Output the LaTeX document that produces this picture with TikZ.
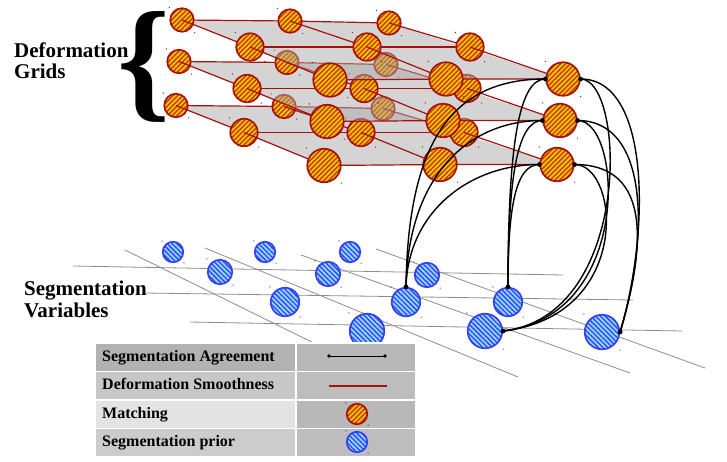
\documentclass[tikz,border=0pt]{standalone}
\usepackage{fontspec}
\setmainfont{Liberation Serif}
\usetikzlibrary{patterns.meta,positioning}
\definecolor{GridRed}{RGB}{168,16,16}
\definecolor{MatchFill}{RGB}{255,196,0}
\definecolor{MatchHatch}{RGB}{190,60,0}
\definecolor{SegBlue}{RGB}{52,64,246}
\definecolor{SegFill}{RGB}{140,215,255}
\definecolor{PlaneGray}{RGB}{170,170,170}
\definecolor{LineGray}{RGB}{140,140,140}
\newcommand{\specks}[2]{\fill[#2] (#1.west |- #1.north) circle (0.7) (#1.east |- #1.south) circle (0.7);}

\begin{document}
\begin{tikzpicture}[x=1pt,y=-1pt,
  matchnode/.style={circle,inner sep=0pt,draw=GridRed,line width=1.7pt,preaction={fill=MatchFill},
    pattern={Lines[angle=45,distance=3.4pt,line width=1.4pt]},pattern color=MatchHatch},
  priornode/.style={circle,inner sep=0pt,draw=SegBlue,line width=1.7pt,preaction={fill=SegFill},
    pattern={Lines[angle=-45,distance=3.4pt,line width=1.3pt]},pattern color=SegBlue},
  smoothline/.style={GridRed,line width=1.2pt},
  agreeline/.style={black,line width=1.4pt},
  gridplane/.style={fill=PlaneGray,fill opacity=0.5},
  segline/.style={LineGray,line width=0.8pt},
  heading/.style={font=\fontsize{21}{21.5}\selectfont\bfseries,align=left,inner sep=0pt,anchor=north west},
  legtext/.style={font=\fontsize{16}{17}\selectfont\bfseries,inner sep=0pt,anchor=base west}]
  \useasboundingbox (0,0) rectangle (727,461);

  \draw[segline] (73,266) -- (563,275);
  \draw[segline] (145,293) -- (633,300);
  \draw[segline] (190,322) -- (682,331);
  \draw[segline] (125,250) -- (330,351);
  \draw[segline] (205,248) -- (518,377);
  \draw[segline] (301,255) -- (630,373);
  \draw[segline] (376,249) -- (705,368);

  \foreach \n/\px/\py/\d in {s11/173/252/20.5,s12/265/252/20.5,s13/350/252/20.5,
      s21/220/272/24.5,s22/328/274/24.5,s23/427/275/24.5,
      s31/285/302/28.5,s32/406/302/28.5,s33/508/302/28.5,
      s41/367/331/34.5,s42/485/331/34.5,s43/602/332/34.5}{
    \node[priornode,minimum size=\d pt] (\n) at (\px,\py) {};
    \specks{\n}{SegBlue}
  }

  \foreach \l/\sx/\sy in {3/-6/85.5,2/-3/41.5,1/0/0}{
    \begin{scope}[shift={(\sx,\sy)}]
      \foreach \r/\c/\px/\py in {a/1/182/20,a/2/290/21,a/3/389/23,b/1/250/47,b/2/367/47,b/3/470/47,c/1/330/80,c/2/446/79,c/3/563/79}
        \coordinate (p\l\r\c) at (\px,\py);
    \end{scope}
    \fill[gridplane] (p\l a1) -- (p\l a3) -- (p\l c3) -- (p\l c1) -- cycle;
    \foreach \r in {a,b,c}
      \draw[smoothline] (p\l\r1) -- (p\l\r2) -- (p\l\r3);
    \foreach \r/\nr/\d in {a/b/23.5,b/c/27.5,c/c/33.5}{
      \foreach \c in {1,2,3}{
        \node[matchnode,minimum size=\d pt] (m\l\r\c) at (p\l\r\c) {};
        \specks{m\l\r\c}{GridRed}
      }
      \foreach \c in {1,2,3}
        \draw[smoothline] (m\l\r\c.center) -- (p\l\nr\c);
    }
  }

  \node[heading] (deflabel) at (14,42.5) {Deformation\\Grids};
  \node[heading] (seglabel) at (24,281) {Segmentation\\Variables};
  \node[font=\fontsize{134}{134}\selectfont\bfseries,inner sep=0pt] (brace) at (144,67) {\{};

  \foreach \l/\ha/\hb in {1/150/-90,2/110/-75,3/75/-70}{
    \draw[agreeline] (s32.north) .. controls +(2,-\ha) and +(\hb,0) .. (m\l c3.west);
    \draw[agreeline] (s33.north) .. controls +(0,-\ha) and +(-25,0) .. (m\l c3.west);
    \draw[agreeline] (s42.east) .. controls +(130,-15) and +(45,0) .. (m\l c3.east);
    \draw[agreeline] (s43.east) .. controls +(30,-100) and +(70,0) .. (m\l c3.east);
    \fill (m\l c3.west) circle (2.4) (m\l c3.east) circle (2.4);
  }
  \fill (s32.north) circle (2.4) (s33.north) circle (2.4) (s42.east) circle (2.4) (s43.east) circle (2.4);

  \foreach \ya/\yb/\lshade/\rshade in {343/371.5/30/28,371.5/400/22/26,400/428.5/11/28,428.5/457/20/26}{
    \filldraw[draw=white,line width=1.2pt,fill=black!\lshade] (95,\ya) rectangle (296,\yb);
    \filldraw[draw=white,line width=1.2pt,fill=black!\rshade] (296,\ya) rectangle (416,\yb);
  }
  \node[legtext] (legagree) at (102,361) {Segmentation Agreement};
  \node[legtext] (legsmooth) at (102,389.5) {Deformation Smoothness};
  \node[legtext] (legmatch) at (102,418) {Matching};
  \node[legtext] (legprior) at (102,446.5) {Segmentation prior};
  \coordinate (agl) at (329,356);
  \coordinate (agr) at (385,356);
  \draw[agreeline,line width=1pt] (agl) -- (agr);
  \fill (agl) circle (1.8) (agr) circle (1.8);
  \coordinate (sml) at (329,386);
  \coordinate (smr) at (387,386);
  \draw[smoothline] (sml) -- (smr);
  \node[matchnode,minimum size=20.5pt] (legmatchnode) at (357,414) {};
  \specks{legmatchnode}{GridRed}
  \node[priornode,minimum size=20.5pt] (legpriornode) at (357,442) {};
  \specks{legpriornode}{SegBlue}
\end{tikzpicture}
\end{document}
